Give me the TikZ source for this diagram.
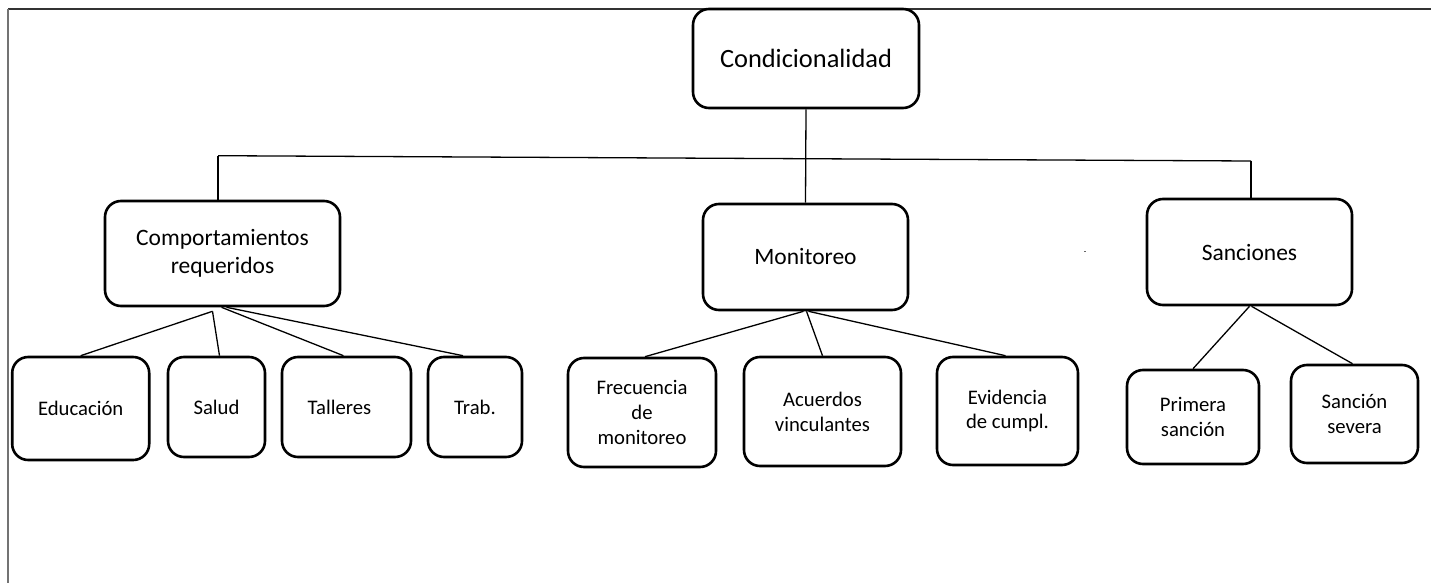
\documentclass[tikz,border=0pt]{standalone}
\usepackage{fontspec}
\setmainfont{Carlito}
\usetikzlibrary{calc}
\begin{document}
\begin{tikzpicture}[x=1pt,y=-1pt,
  box/.style={draw, line width=2.6pt, rounded corners=16pt, align=center, inner sep=0pt},
  big/.style={font=\fontsize{26.4}{32}\selectfont},
  mid/.style={font=\fontsize{23.5}{28.5}\selectfont},
  small/.style={font=\fontsize{20.7}{24.8}\selectfont},
  link/.style={line width=1.3pt},
  frame/.style={line width=1.8pt}]
\useasboundingbox (0,0) rectangle (1431,583);
% frame
\draw[frame, black!80] (8,9) -- (1431,9);
\draw[frame, black!55] (8,9) -- (8,583);
% level 0
\node[box, big, minimum width=226, minimum height=99] (cond) at (806,58.5) {Condicionalidad};
% level 1
\node[box, mid, minimum width=235, minimum height=105] (comp) at (222.5,253.5) {Comportamientos\\requeridos};
\node[box, mid, minimum width=205, minimum height=106] (mon) at (805.5,257) {Monitoreo};
\node[box, mid, minimum width=205, minimum height=106] (sanc) at (1249.5,252) {Sanciones};
% level 2
\node[box, small, minimum width=137, minimum height=103] (edu) at (80.7,408.5) {Educación};
\node[box, small, minimum width=97, minimum height=100] (sal) at (216.5,407) {Salud};
\node[box, small, minimum width=129, minimum height=100] (tal) at (346.5,407) {};
\node[small, inner sep=0pt] (taltxt) at ($(tal.center)+(-7,0)$) {Talleres};
\node[box, small, minimum width=94, minimum height=100] (trab) at (475,407) {Trab.};
\node[box, small, minimum width=148, minimum height=109] (frec) at (642,412.5) {Frecuencia\\de\\monitoreo};
\node[box, small, minimum width=157, minimum height=109] (acu) at (822.5,411.5) {Acuerdos\\vinculantes};
\node[box, small, minimum width=141, minimum height=108] (evi) at (1007.5,411) {Evidencia\\de cumpl.};
\node[box, small, minimum width=132, minimum height=94] (prim) at (1193,417) {Primera\\sanción};
\node[box, small, minimum width=127, minimum height=98] (sev) at (1354.5,414) {Sanción\\severa};
% bus
\coordinate (busL) at (218,155.7);
\coordinate (busR) at (1251,161);
\draw[link] (cond.south) -- (mon.north);
\draw[link] (busL) -- (busR);
\draw[link] (busL) -- (busL |- comp.north);
\draw[link] (busR) -- (busR |- sanc.north);
% comp children
\coordinate (cj) at ($(comp.south)+(-10,4)$);
\draw[link] (cj) -- (edu.north);
\draw[link] (cj) -- ($(sal.north)+(3,0)$);
\draw[link] ($(comp.south)+(-1,0)$) -- ($(tal.north)+(-3,0)$);
\draw[link] ($(comp.south)+(4,0)$) -- ($(trab.north)+(-12,0)$);
% mon children
\draw[link] ($(mon.south)+(-2,0)$) -- ($(frec.north)+(3,0)$);
\draw[link] ($(mon.south)+(1,0)$) -- (acu.north);
\draw[link] ($(mon.south)+(3,0)$) -- ($(evi.north)+(-2,0)$);
% sanc children
\draw[link] (sanc.south) -- (prim.north);
\draw[link] ($(sanc.south)+(2,0)$) -- ($(sev.north)+(-2,0)$);
% stray mark
\draw[line width=1pt, black!60] (1084,251) -- (1086,251);
\end{tikzpicture}
\end{document}
